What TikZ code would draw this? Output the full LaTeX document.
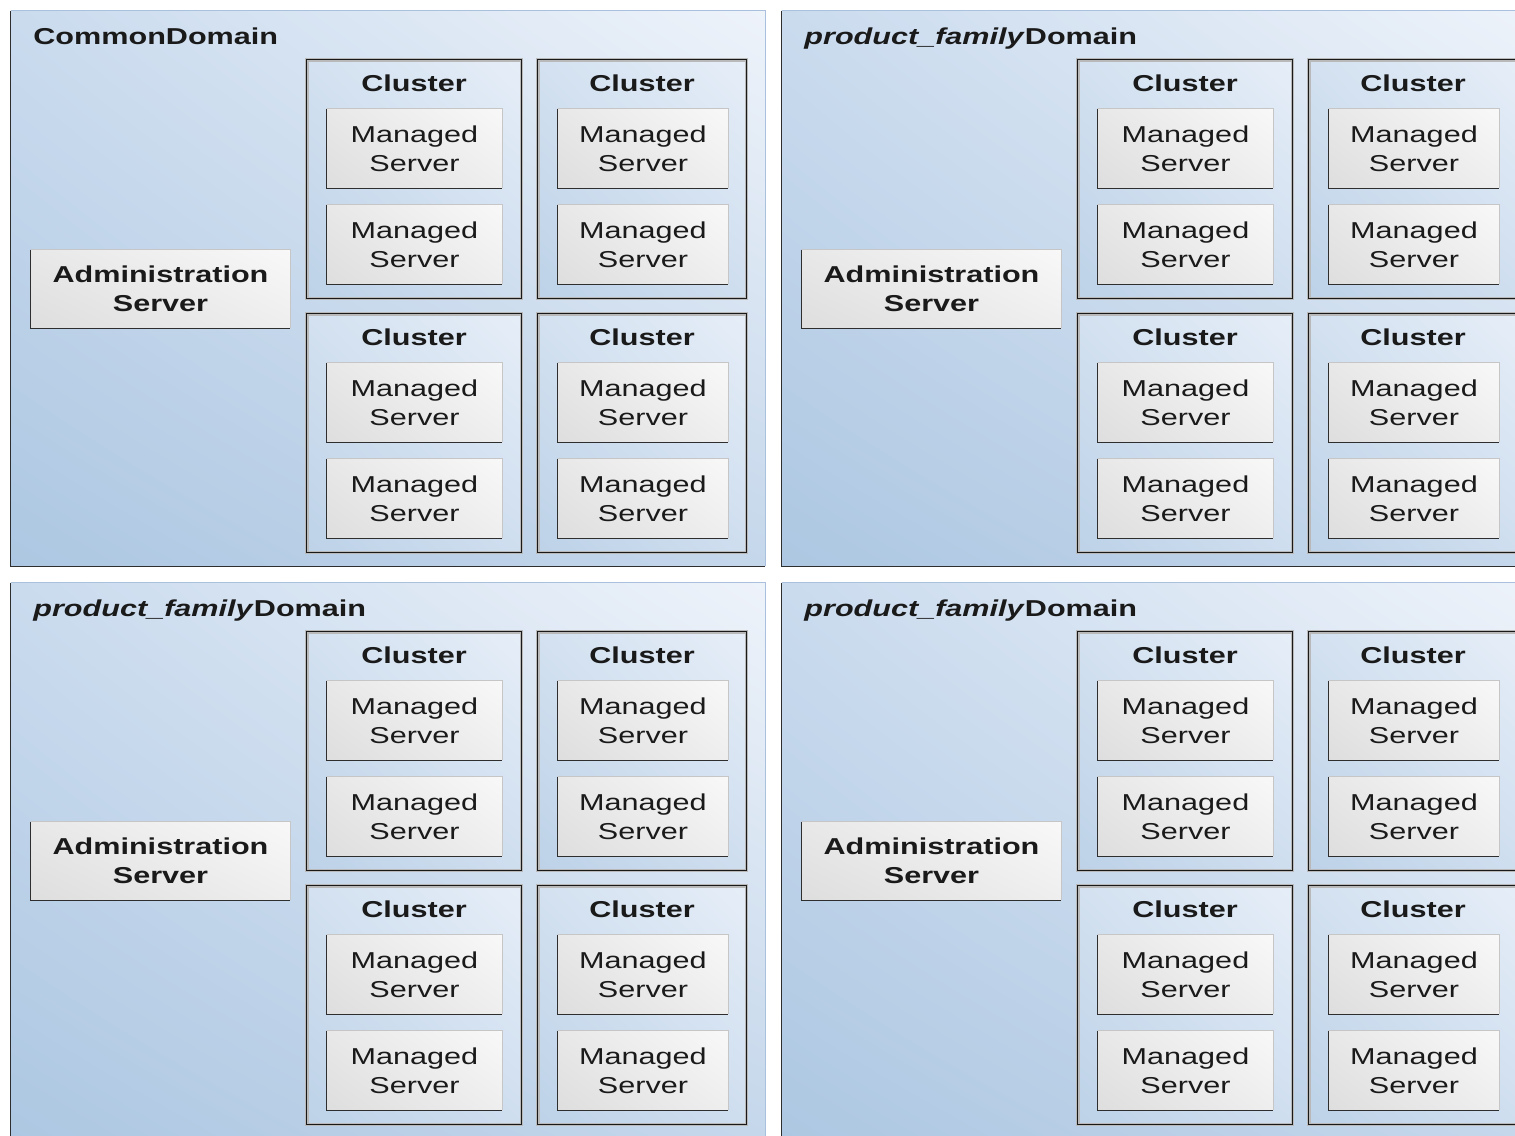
\documentclass[tikz,border=0pt]{standalone}
\usepackage{fontspec}
\setmainfont{Liberation Sans}[FakeStretch=1.33]
\usetikzlibrary{shadings}
\definecolor{domUR}{HTML}{EEF3FA}
\definecolor{domUL}{HTML}{CADBEE}
\definecolor{domLL}{HTML}{ADC7E2}
\definecolor{domLR}{HTML}{C5D7EB}
\definecolor{clUR}{HTML}{E6EEF8}
\definecolor{clUL}{HTML}{D3E1F0}
\definecolor{clLL}{HTML}{BDD2E8}
\definecolor{clLR}{HTML}{CFDEEF}
\definecolor{msUR}{HTML}{F8F8F8}
\definecolor{msUL}{HTML}{E8E8E8}
\definecolor{msLL}{HTML}{DEDEDE}
\definecolor{msLR}{HTML}{EEEEEE}
\definecolor{edgeDark}{HTML}{2E2E2E}
\definecolor{edgeLightBlue}{HTML}{A9C1DC}
\definecolor{edgeLightGray}{HTML}{C6C6C6}
\definecolor{txt}{HTML}{1A1A1A}
\tikzset{
  domainbox/.style={minimum width=377pt, minimum height=277.5pt, inner sep=0pt,
    shade, upper left=domUL, upper right=domUR, lower left=domLL, lower right=domLR},
  clusterbox/.style={minimum height=119pt, inner sep=0pt,
    shade, upper left=clUL, upper right=clUR, lower left=clLL, lower right=clLR},
  serverbox/.style={inner sep=0pt, align=center, text=txt,
    shade, upper left=msUL, upper right=msUR, lower left=msLL, lower right=msLR,
    font=\fontsize{11.5}{14.5}\selectfont},
  msbox/.style={serverbox, minimum height=39.5pt},
  adminbox/.style={serverbox, minimum width=129.5pt, minimum height=39pt,
    font=\fontsize{11.5}{14.5}\selectfont\bfseries},
  titletext/.style={inner sep=0pt, anchor=base west, text=txt,
    font=\fontsize{11.5}{14}\selectfont\bfseries},
  clustertext/.style={inner sep=0pt, text=txt, font=\fontsize{11.5}{14}\selectfont\bfseries},
  darkedge/.style={draw=edgeDark, line width=0.8pt},
  lightblueedge/.style={draw=edgeLightBlue, line width=0.7pt},
  lightgrayedge/.style={draw=edgeLightGray, line width=0.6pt},
  clusterhalo/.style={draw=gray!55, line width=1.9pt},
  clusteredge/.style={draw=black!90, line width=0.8pt},
}
\newcommand\bevelbox[1]{%
  \draw[lightgrayedge] (#1.north west) -- (#1.north east) -- (#1.south east);
  \draw[darkedge] (#1.north west) -- (#1.south west) -- (#1.south east);}
\newcommand\drawdomain[4]{%
  \begin{scope}[shift={(#2,#3)}]
    \node[domainbox] (#1) at (388,288.5) {};
    \draw[lightblueedge] (#1.north west) -- (#1.north east) -- (#1.south east);
    \draw[darkedge] (#1.north west) -- (#1.south west) -- (#1.south east);
    \node[titletext] (#1-title) at (33,44) {#4};
    \node[adminbox] (#1-admin) at (160.5,289) {Administration\\Server};
    \bevelbox{#1-admin}
    \foreach \col/\cx/\cw/\mx/\mw in {1/414/107/414.5/87.5, 2/642/104/643/85}{
      \foreach \row/\cy in {1/179, 2/433}{
        \node[clusterbox, minimum width=\cw pt] (#1-c\col\row) at (\cx,\cy) {};
        \draw[clusterhalo] (#1-c\col\row.north west) rectangle (#1-c\col\row.south east);
        \draw[clusteredge] (#1-c\col\row.north west) rectangle (#1-c\col\row.south east);
        \node[clustertext] (#1-l\col\row) at (\cx,\cy-96) {Cluster};
        \node[msbox, minimum width=\mw pt] (#1-m\col\row a) at (\mx,\cy-30.5) {Managed\\Server};
        \bevelbox{#1-m\col\row a}
        \node[msbox, minimum width=\mw pt] (#1-m\col\row b) at (\mx,\cy+65.5) {Managed\\Server};
        \bevelbox{#1-m\col\row b}
      }
    }
  \end{scope}}
\begin{document}
\begin{tikzpicture}[x=0.5pt, y=-0.5pt]
  \useasboundingbox (0,0) rectangle (1515,1135);
  \fill[white] (0,0) rectangle (1515,1135);
  \clip (0,0) rectangle (1515,1135);
  \drawdomain{d1}{0}{0}{CommonDomain}
  \drawdomain{d2}{771}{0}{\textit{product\_family}Domain}
  \drawdomain{d3}{0}{572}{\textit{product\_family}Domain}
  \drawdomain{d4}{771}{572}{\textit{product\_family}Domain}
\end{tikzpicture}
\end{document}
